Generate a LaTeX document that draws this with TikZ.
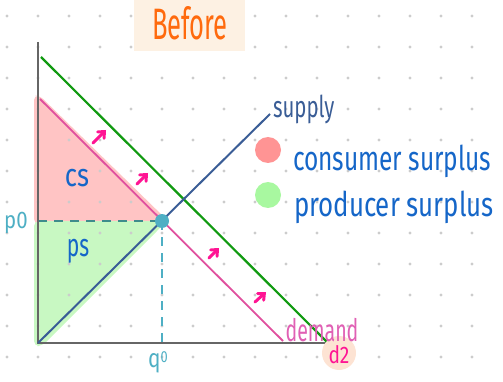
\documentclass[tikz,border=0pt]{standalone}
\usepackage{fontspec}
\setmainfont{Fira Sans}
\usetikzlibrary{arrows.meta}
\definecolor{dotgray}{HTML}{CCCCCC}
\definecolor{axisgray}{HTML}{666666}
\definecolor{dgreen}{HTML}{119A11}
\definecolor{dpink}{HTML}{E0509E}
\definecolor{supblue}{HTML}{3A5D96}
\definecolor{csfill}{HTML}{FFC4C4}
\definecolor{psfill}{HTML}{C8F8C2}
\definecolor{eqcyan}{HTML}{4EAFC4}
\definecolor{dashteal}{HTML}{3E8C8C}
\definecolor{txtblue}{HTML}{1566C8}
\definecolor{titleorange}{HTML}{FF6A0D}
\definecolor{titlebg}{HTML}{FDF1E3}
\definecolor{legpink}{HTML}{FF9494}
\definecolor{leggreen}{HTML}{A8F8A0}
\definecolor{demtxt}{HTML}{E060B4}
\definecolor{hotpink}{HTML}{FF1493}
\definecolor{peach}{HTML}{FDE3D3}
\newcommand{\hw}[3]{\fontsize{#1}{#1}\selectfont\scalebox{#2}[1]{#3}}
\begin{document}
\begin{tikzpicture}[x=1pt,y=-1pt,
  axisline/.style={draw=axisgray,line width=2pt},
  demline/.style={draw=dpink,line width=1.8pt},
  d2line/.style={draw=dgreen,line width=2.2pt},
  supline/.style={draw=supblue,line width=2pt},
  shiftarrow/.style={draw=hotpink,line width=3pt,line cap=round,-{Straight Barb[length=5pt,width=9pt,line cap=round]}},
  lbl/.style={inner sep=0pt,outer sep=0pt}
]
\useasboundingbox (0,0) rectangle (503,382);
% surplus areas
\fill[csfill,rounded corners=5pt] (34,95) -- (40,96) -- (166,219) -- (163,224) -- (34,224) -- cycle;
\fill[psfill,rounded corners=5pt] (34,221) -- (166,221) -- (160,228) -- (42,346) -- (34,346) -- cycle;
% dot grid
\foreach \i in {0,...,15}{\foreach \j in {0,...,11}{
  \fill[dotgray] (7+31*\i,16+31*\j) circle (1.6);}}
% title
\node[lbl,fill=titlebg,minimum width=111pt,minimum height=51pt] (titlebox) at (189.5,25.5) {};
\node[lbl,text=titleorange,anchor=base] (title) at (190,40) {\hw{44}{0.58}{Before}};
% coordinates
\coordinate (O) at (38,343);
\coordinate (ytop) at (38,42);
\coordinate (xend) at (335,343);
\coordinate (d1a) at (40,99);
\coordinate (d1b) at (283,341);
\coordinate (d2a) at (41,57);
\coordinate (d2b) at (327,342);
\coordinate (supend) at (270,114);
\coordinate (E) at (162,221);
\coordinate (p0pt) at (38,221);
\coordinate (q0pt) at (162,343);
% dashed guides
\draw[dashteal,line width=1.8pt,dash pattern=on 9pt off 7pt] (p0pt) -- (E);
\draw[eqcyan,line width=1.8pt,dash pattern=on 9pt off 7pt] (E) -- (q0pt);
% axes
\draw[axisline] (ytop) -- (O) -- (xend);
% curves
\draw[demline] (d1a) -- (d1b);
\draw[d2line] (d2a) -- (d2b);
\draw[supline] (O) -- (supend);
% equilibrium point
\node[circle,fill=eqcyan,minimum size=14pt,inner sep=0pt] (eq) at (E) {};
% shift arrows
\coordinate (a1s) at (93,143); \coordinate (a1e) at (106,130);
\coordinate (a2s) at (137,184); \coordinate (a2e) at (148,173);
\coordinate (a3s) at (209,258); \coordinate (a3e) at (219,248);
\coordinate (a4s) at (255,302); \coordinate (a4e) at (266,292);
\draw[shiftarrow] (a1s) -- (a1e);
\draw[shiftarrow] (a2s) -- (a2e);
\draw[shiftarrow] (a3s) -- (a3e);
\draw[shiftarrow] (a4s) -- (a4e);
% labels
\node[lbl,text=supblue,anchor=base west] (suplbl) at (273,118) {\hw{30}{0.68}{supply}};
\node[lbl,text=txtblue,anchor=base] (cslbl) at (77,186) {\hw{32}{0.8}{cs}};
\node[lbl,text=txtblue,anchor=base] (pslbl) at (78,256) {\hw{32}{0.66}{ps}};
\node[lbl,text=eqcyan,anchor=base] (p0lbl) at (16,229) {\hw{24}{0.85}{p0}};
\node[lbl,text=eqcyan,anchor=base] (q0lbl) at (158,367) {\hw{26}{0.8}{q\raisebox{5pt}{\fontsize{16}{16}\selectfont 0}}};
\node[circle,fill=peach,minimum size=34pt,inner sep=0pt] (d2bg) at (339,353) {};
\node[lbl,text=demtxt,anchor=base] (demlbl) at (322,341) {\hw{31}{0.63}{demand}};
\node[lbl,text=hotpink,anchor=base] (d2lbl) at (339,363) {\hw{24}{0.8}{d2}};
% legend
\node[circle,fill=legpink,minimum size=26pt,inner sep=0pt] (legcs) at (268,150) {};
\node[circle,fill=leggreen,minimum size=26pt,inner sep=0pt] (legps) at (268,195) {};
\node[lbl,text=txtblue,anchor=base west] (legcstxt) at (293,171) {\hw{34}{0.72}{consumer surplus}};
\node[lbl,text=txtblue,anchor=base west] (legpstxt) at (294,216) {\hw{34}{0.76}{producer surplus}};
\end{tikzpicture}
\end{document}
